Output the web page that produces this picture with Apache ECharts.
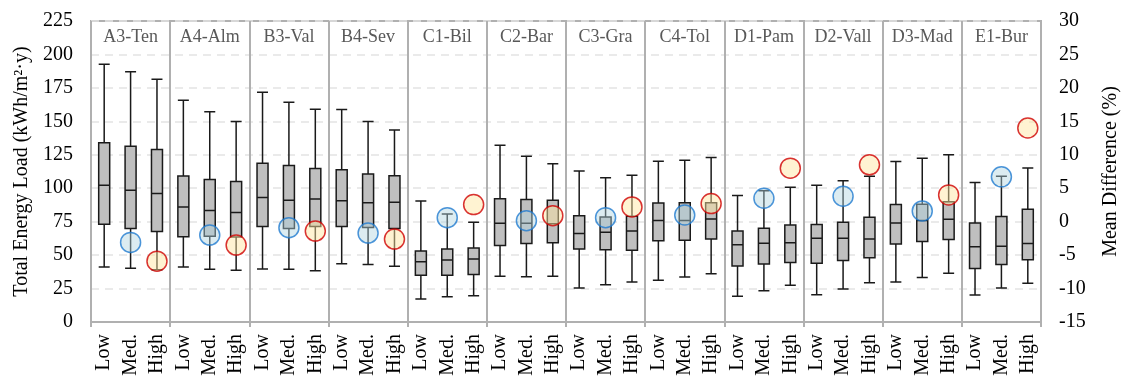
<!DOCTYPE html>
<html>
<head>
<meta charset="utf-8">
<script src="https://cdn.jsdelivr.net/npm/echarts@6/dist/echarts.min.js"></script>
<style>
html,body{margin:0;padding:0;background:#fff;}
#chart{width:1121px;height:378px;}
</style>
</head>
<body>
<div id="chart"></div>
<script>
const zones = ['A3-Ten','A4-Alm','B3-Val','B4-Sev','C1-Bil','C2-Bar','C3-Gra','C4-Tol','D1-Pam','D2-Vall','D3-Mad','E1-Bur'];
const levels = ['Low','Med.','High'];

// Box statistics per category (zone x level), in kWh/m²·y
const whiskerMin = [41.1,40.1,39.1, 41.1,39.4,38.6, 39.6,39.4,38.4, 43.6,42.9,41.6,
                    17.2,18.9,19.7, 34.2,33.9,34.2, 25.4,27.9,29.9, 31.2,33.7,36.1,
                    19.2,23.4,27.4, 20.4,24.7,29.4, 29.9,33.2,36.4, 20.2,25.4,28.9];
const q1 =        [73.0,69.8,67.6, 63.8,64.1,63.6, 71.3,69.8,71.3, 71.3,70.6,69.8,
                    34.9,34.9,35.6, 57.1,58.6,59.3, 54.6,54.1,53.6, 60.8,61.1,62.1,
                    41.9,43.4,44.4, 43.9,45.9,48.1, 58.3,60.1,61.6, 39.9,42.9,46.6];
const median =    [102.2,98.5,96.0, 86.0,83.3,81.8, 93.0,91.0,92.0, 90.7,89.2,89.5,
                    45.1,46.4,47.1, 73.8,73.8,73.5, 66.1,67.1,68.1, 75.8,75.8,77.0,
                    57.8,58.8,59.3, 62.6,62.6,62.1, 74.0,75.8,76.8, 56.3,56.6,58.6];
const q3 =        [133.9,131.4,128.9, 109.2,106.5,105.0, 118.7,116.9,114.7, 113.9,110.7,109.4,
                    53.1,54.6,55.3, 92.2,91.5,91.0, 79.5,78.5,79.0, 89.0,89.2,89.2,
                    68.1,70.1,72.5, 72.8,74.5,78.3, 87.8,88.0,89.9, 74.0,78.8,84.3];
const whiskerMax = [192.7,187.0,181.5, 165.8,157.1,149.8, 171.8,164.3,159.1, 158.8,149.8,143.6,
                    90.5,80.8,74.5, 132.1,123.9,118.2, 112.9,107.9,109.7, 120.2,120.9,122.9,
                    94.5,98.2,100.7, 102.2,105.5,108.9, 119.9,122.4,125.1, 104.2,108.9,115.2];

// Mean difference (%) relative to Low, per zone
const medDiff  = [-3.1,-2.0,-0.9,-1.7, 0.6,0.15,0.6,1.0, 3.5,3.8,1.6,6.7];
const highDiff = [-5.9,-3.5,-1.4,-2.6, 2.55,0.9,2.2,2.7, 8.0,8.5,4.0,14.0];

const leftTicks = {min:0, max:225, interval:25};
const rightTicks = {min:-15, max:30, interval:5};

const categories = [];
zones.forEach(() => levels.forEach(l => categories.push(l)));
const boxData = categories.map((_, i) => [whiskerMin[i], q1[i], median[i], q3[i], whiskerMax[i]]);
const medPts = [], highPts = [];
zones.forEach((z, g) => {
  medPts.push([g*3+1, medDiff[g]]);
  highPts.push([g*3+2, highDiff[g]]);
});

const FONT = 'Liberation Serif';
const chart = echarts.init(document.getElementById('chart'), null, {renderer:'canvas'});
chart.setOption({
  animation:false,
  backgroundColor:'#fff',
  grid:{left:91, right:80, top:21, bottom:56, show:true, borderColor:'#b0b0b0', borderWidth:2,
        containLabel:false, outerBoundsMode:'none'},
  xAxis:[{
    type:'category', data:categories, boundaryGap:true,
    axisLine:{show:true, lineStyle:{color:'#b0b0b0', width:2}},
    axisTick:{show:true, interval:(i)=> i%3===0, length:5, lineStyle:{color:'#b0b0b0', width:2}},
    splitLine:{show:true, interval:(i)=> i%3===0, lineStyle:{color:'#b0b0b0', width:2}},
    axisLabel:{interval:0, rotate:90, margin:12, fontFamily:FONT, fontSize:20, color:'#000'}
  },{
    type:'category', data:zones, position:'top', boundaryGap:true,
    axisLine:{show:false}, axisTick:{show:false}, splitLine:{show:false},
    axisLabel:{inside:true, interval:0, margin:7, fontFamily:FONT, fontSize:18, color:'#595959'}
  }],
  yAxis:[{
    type:'value', min:leftTicks.min, max:leftTicks.max, interval:leftTicks.interval,
    name:'Total Energy Load (kWh/m²·y)', nameLocation:'middle', nameGap:58, nameRotate:90,
    nameTextStyle:{fontFamily:FONT, fontSize:20, color:'#000'},
    axisLine:{show:false}, axisTick:{show:false},
    splitLine:{show:true, lineStyle:{color:'#e3e3e3', type:[8,6], width:1.5}},
    axisLabel:{fontFamily:FONT, fontSize:20, color:'#000', margin:18}
  },{
    type:'value', min:rightTicks.min, max:rightTicks.max, interval:rightTicks.interval,
    name:'Mean Difference (%)', nameLocation:'middle', nameGap:60, nameRotate:90,
    nameTextStyle:{fontFamily:FONT, fontSize:20, color:'#000'},
    axisLine:{show:false}, axisTick:{show:false}, splitLine:{show:false},
    axisLabel:{fontFamily:FONT, fontSize:20, color:'#000', margin:18}
  }],
  series:[{
    type:'boxplot', data:boxData, xAxisIndex:0, yAxisIndex:0,
    boxWidth:[11,11],
    itemStyle:{color:'#bfbfbf', borderColor:'#1a1a1a', borderWidth:1.5}
  },{
    type:'scatter', data:medPts, xAxisIndex:0, yAxisIndex:1, symbolSize:20, z:5,
    itemStyle:{color:'rgba(175,212,222,0.55)', borderColor:'#1f7ad0', borderWidth:1.5}
  },{
    type:'scatter', data:highPts, xAxisIndex:0, yAxisIndex:1, symbolSize:20, z:5,
    itemStyle:{color:'rgba(255,230,160,0.6)', borderColor:'#d00000', borderWidth:1.5}
  }]
});
</script>
</body>
</html>
